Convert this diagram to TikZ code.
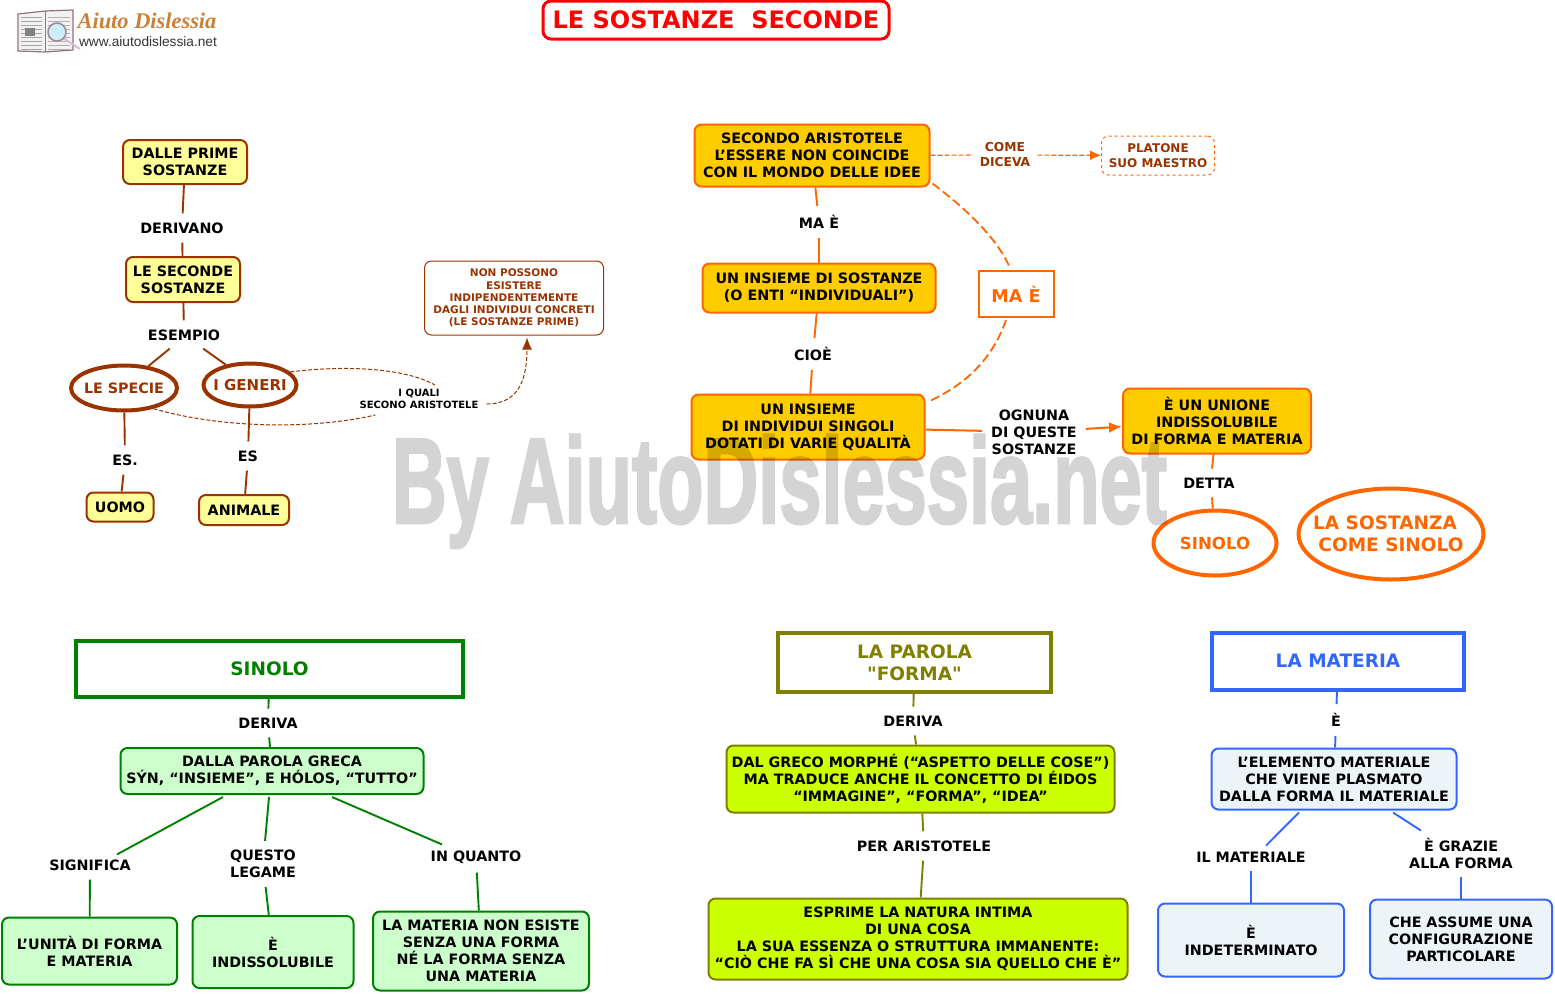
\documentclass[tikz,border=0pt]{standalone}
\usepackage{fontspec}
\usepackage{graphicx}
\setmainfont{DejaVu Sans}
\newfontfamily\logofont{Liberation Serif}
\newfontfamily\webfont{Liberation Sans}
\newfontfamily\markfont[FakeBold=2.5]{Liberation Sans}
\usetikzlibrary{arrows.meta,positioning,calc,shapes.geometric}
\newcommand{\straightq}{\XeTeXglyph\XeTeXcharglyph"0022\relax}
\definecolor{brownc}{HTML}{993300}
\definecolor{orangec}{HTML}{FF6600}
\definecolor{goldc}{HTML}{FFCC00}
\definecolor{paleyel}{HTML}{FFFF99}
\definecolor{greenc}{HTML}{008000}
\definecolor{palegrn}{HTML}{CCFFCC}
\definecolor{olivec}{HTML}{808000}
\definecolor{limec}{HTML}{CCFF00}
\definecolor{bluec}{HTML}{3366FF}
\definecolor{paleblu}{HTML}{EDF4F7}
\tikzstyle{basebox}=[draw,rounded corners=7pt,align=center,inner sep=0pt,line width=2pt,font=\fontsize{14.3}{17}\selectfont\bfseries]
\tikzstyle{yelbox}=[basebox,draw=brownc,fill=paleyel]
\tikzstyle{goldbox}=[basebox,draw=orangec,fill=goldc]
\tikzstyle{grnbox}=[basebox,draw=greenc,fill=palegrn]
\tikzstyle{limebox}=[basebox,draw=olivec,fill=limec]
\tikzstyle{blubox}=[basebox,draw=bluec,fill=paleblu]
\tikzstyle{headbox}=[draw,align=center,inner sep=0pt,line width=4pt,fill=white,font=\fontsize{18.5}{22}\selectfont\bfseries]
\tikzstyle{oval}=[draw,ellipse,align=center,inner xsep=-16pt,inner ysep=0pt,line width=4pt,fill=white]
\tikzstyle{lab}=[align=center,inner sep=9pt,font=\fontsize{14.3}{17}\selectfont\bfseries]
\tikzstyle{smalllab}=[align=center,inner sep=0pt,font=\fontsize{12.3}{15}\selectfont\bfseries]
\tikzstyle{brownln}=[draw=brownc,line width=1.9pt]
\tikzstyle{orangeln}=[draw=orangec,line width=1.9pt]
\tikzstyle{greenln}=[draw=greenc,line width=1.9pt]
\tikzstyle{oliveln}=[draw=olivec,line width=1.9pt]
\tikzstyle{blueln}=[draw=bluec,line width=1.9pt]
\begin{document}
\begin{tikzpicture}[x=1pt,y=-1pt]
  \useasboundingbox (0,0) rectangle (1555,993);
  % logo
  \draw[draw=black!45!magenta!45!gray,line width=1.2pt,fill=black!5] (18,14) -- (45,11) -- (73,10) -- (73,50) -- (45,52) -- (18,51) -- cycle;
  \draw[draw=black!45!magenta!45!gray,line width=1pt] (45,11) -- (45,52);
  \foreach \ly in {17,21,...,49} {
    \draw[draw=black!35,line width=.8pt] (21,\ly) -- (42,\ly);
    \draw[draw=black!30,line width=.8pt] (48,\ly) -- (70,\ly);
  }
  \fill[black!50] (25,28) rectangle (35,36);
  \draw[draw=black!55!magenta!30,line width=2pt] (63,38) -- (80,49);
  \draw[draw=gray!80!magenta,line width=1.5pt,fill=cyan!20] (57,32) circle (9);
  \node (logoname) at (147,21) {\logofont\fontsize{22.4}{22}\selectfont\bfseries\itshape\color{brown!80!orange}Aiuto Dislessia};
  \node (logoweb) at (148,42) {\webfont\fontsize{13.7}{14}\selectfont\color{black!80}www.aiutodislessia.net};
  % title
  \node [draw=red,line width=3pt,rounded corners=8pt,text=red,minimum width=346pt,minimum height=38pt,inner sep=0pt,font=\fontsize{24}{30}\selectfont\bfseries] (title) at (716,20) {LE SOSTANZE\ \ SECONDE};
  % left map
  \node [yelbox,minimum width=124pt,minimum height=44pt] (prime) at (185,162) {DALLE PRIME\\SOSTANZE};
  \node [lab] (derivano) at (182,228) {DERIVANO};
  \node [yelbox,minimum width=114pt,minimum height=45pt] (seconde) at (183,279.5) {LE SECONDE\\SOSTANZE};
  \node [lab] (esempio) at (184,335) {ESEMPIO};
  \node [oval,draw=brownc,text=brownc,minimum width=106pt,minimum height=45pt,font=\fontsize{14.3}{17}\selectfont\bfseries] (specie) at (124,388) {LE SPECIE};
  \node [oval,draw=brownc,text=brownc,minimum width=93pt,minimum height=43pt,font=\fontsize{15}{17}\selectfont\bfseries] (generi) at (250,385) {I GENERI};
  \node [lab] (esa) at (125,460) {ES.};
  \node [lab] (esb) at (248,456) {ES};
  \node [yelbox,minimum width=67pt,minimum height=29pt] (uomo) at (120,507) {UOMO};
  \node [yelbox,minimum width=90pt,minimum height=30pt] (animale) at (244,510) {ANIMALE};
  \node [draw=brownc,line width=1pt,rounded corners=7pt,align=center,inner sep=0pt,text=brownc,minimum width=179pt,minimum height=74pt,font=\fontsize{10.5}{12.2}\selectfont\bfseries] (nonposs) at (514,298) {NON POSSONO\\ESISTERE\\INDIPENDENTEMENTE\\DAGLI INDIVIDUI CONCRETI\\(LE SOSTANZE PRIME)};
  \node [align=center,inner sep=0pt,font=\fontsize{10}{12}\selectfont\bfseries] (iquali) at (419,399) {I QUALI\\SECONO ARISTOTELE};
  \draw[brownln] (prime) -- (derivano);
  \draw[brownln] (derivano) -- (seconde);
  \draw[brownln] (seconde) -- (esempio);
  \draw[brownln] (esempio.south west) ++(31,-1) -- (specie.42);
  \draw[brownln] (esempio.south east) ++(-26,-1) -- (generi.140);
  \draw[brownln] (specie) -- (esa);
  \draw[brownln] (esa) -- (uomo);
  \draw[brownln] (generi) -- (esb);
  \draw[brownln] (esb) -- (animale);
  \draw[draw=brownc,line width=1pt,dash pattern=on 4pt off 2pt] (generi.18) .. controls (345,365) and (405,368) .. ([xshift=16pt,yshift=4pt]iquali.north);
  \draw[draw=brownc,line width=1pt,dash pattern=on 4pt off 2pt] (specie.-35) .. controls (220,428) and (310,430) .. ([xshift=16pt,yshift=-6pt]iquali.south west);
  \draw[draw=brownc,line width=1pt,dash pattern=on 4pt off 2pt,-{Latex[length=12pt,width=10pt]}] ([xshift=8pt,yshift=-5pt]iquali.east) .. controls (515,404) and (527,385) .. ([xshift=13pt,yshift=-2pt]nonposs.south);
  % right map
  \node [goldbox,minimum width=235pt,minimum height=62pt] (aristotele) at (812,155.5) {SECONDO ARISTOTELE\\L’ESSERE NON COINCIDE\\CON IL MONDO DELLE IDEE};
  \node [smalllab,text=brownc,inner sep=7pt] (come) at (1005,155) {COME\\DICEVA};
  \node [draw=orangec,line width=1pt,dashed,rounded corners=7pt,align=center,inner sep=0pt,text=brownc,minimum width=113pt,minimum height=39pt,font=\fontsize{12}{15}\selectfont\bfseries] (platone) at (1158,155.5) {PLATONE\\SUO MAESTRO};
  \node [lab] (mae) at (819,222) {MA È};
  \node [goldbox,minimum width=233pt,minimum height=49pt] (enti) at (819,288) {UN INSIEME DI SOSTANZE\\(O ENTI “INDIVIDUALI”)};
  \node [lab] (cioe) at (813,354) {CIOÈ};
  \node [goldbox,minimum width=233pt,minimum height=65pt] (singoli) at (808,427) {UN INSIEME\\DI INDIVIDUI SINGOLI\\DOTATI DI VARIE QUALITÀ};
  \node [draw=orangec,line width=2pt,text=orangec,minimum width=75pt,minimum height=46pt,inner sep=0pt,font=\fontsize{17.6}{22}\selectfont\bfseries] (maebox) at (1016,294) {MA È};
  \node [lab] (ognuna) at (1034,432) {OGNUNA\\DI QUESTE\\SOSTANZE};
  \node [goldbox,minimum width=188pt,minimum height=65pt] (unione) at (1217,421) {È UN UNIONE\\INDISSOLUBILE\\DI FORMA E MATERIA};
  \node [lab] (detta) at (1209,483) {DETTA};
  \node [oval,draw=orangec,text=orangec,minimum width=123pt,minimum height=65pt,font=\fontsize{16.6}{19}\selectfont\bfseries] (sinolob) at (1215,543) {SINOLO};
  \node [oval,draw=orangec,text=orangec,minimum width=185pt,minimum height=91pt,font=\fontsize{18.5}{22}\selectfont\bfseries] (sostsin) at (1391,534) {LA SOSTANZA\hspace*{12pt}\\COME SINOLO};
  \draw[orangeln,line width=1.2pt,dash pattern=on 5pt off 2pt] (aristotele) -- (come);
  \draw[orangeln,line width=1.2pt,dash pattern=on 5pt off 2pt,-{Latex[length=11pt,width=10pt]}] (come) -- (platone);
  \draw[orangeln] (aristotele) -- (mae);
  \draw[orangeln] (mae) -- (enti);
  \draw[orangeln] (enti) -- (cioe);
  \draw[orangeln] (cioe) -- (singoli);
  \draw[orangeln,line width=1.8pt,dash pattern=on 9pt off 4pt] ([xshift=2pt,yshift=4pt]aristotele.south east) .. controls (970,212) and (998,240) .. ([xshift=-6pt,yshift=2pt]maebox.north);
  \draw[orangeln,line width=1.8pt,dash pattern=on 9pt off 4pt] ([xshift=-10pt,yshift=-2pt]maebox.south) .. controls (992,360) and (965,385) .. ([xshift=2pt,yshift=25pt]singoli.east);
  \draw[orangeln,line width=2pt] (singoli) -- (ognuna);
  \draw[orangeln,line width=2pt,-{Latex[length=13pt,width=11pt]}] (ognuna) -- (unione);
  \draw[orangeln] (unione) -- ([xshift=3pt]detta.north);
  \draw[orangeln] ([xshift=3pt]detta.south) -- (sinolob);
  % bottom left
  \node [headbox,draw=greenc,text=greenc,minimum width=387pt,minimum height=56pt] (sinolo) at (269.5,669) {SINOLO};
  \node [lab] (derivag) at (268,723) {DERIVA};
  \node [grnbox,minimum width=303pt,minimum height=46pt] (greca) at (272,771) {DALLA PAROLA GRECA\\SÝN, “INSIEME”, E HÓLOS, “TUTTO”};
  \node [lab] (significa) at (90,865) {SIGNIFICA};
  \node [lab] (legame) at (263,864) {QUESTO\\LEGAME};
  \node [lab] (inquanto) at (476,857) {IN QUANTO};
  \node [grnbox,minimum width=175pt,minimum height=67pt] (unita) at (89.5,951) {L’UNITÀ DI FORMA\\E MATERIA};
  \node [grnbox,minimum width=161pt,minimum height=72pt] (indiss) at (273,952) {È\\INDISSOLUBILE};
  \node [grnbox,minimum width=216pt,minimum height=79pt] (materia) at (481,951) {LA MATERIA NON ESISTE\\SENZA UNA FORMA\\NÉ LA FORMA SENZA\\UNA MATERIA};
  \draw[greenln] (sinolo) -- (derivag);
  \draw[greenln] (derivag) -- (greca);
  \draw[greenln] ([xshift=-49pt,yshift=-2pt]greca.south) -- ([xshift=27pt,yshift=-4pt]significa.north);
  \draw[greenln] ([xshift=-3pt,yshift=-2pt]greca.south) -- (legame);
  \draw[greenln] ([xshift=60pt,yshift=-2pt]greca.south) -- ([xshift=-34pt,yshift=-3pt]inquanto.north);
  \draw[greenln] (significa) -- (unita);
  \draw[greenln] (legame) -- (indiss);
  \draw[greenln] (inquanto) -- (materia);
  % bottom middle
  \node [headbox,draw=olivec,text=olivec,minimum width=273pt,minimum height=59pt] (forma) at (914.5,662.5) {LA PAROLA\\\straightq FORMA\straightq};
  \node [lab] (derivao) at (913,721) {DERIVA};
  \node [limebox,minimum width=388pt,minimum height=67pt] (morphe) at (920.5,779) {DAL GRECO MORPHÉ (“ASPETTO DELLE COSE”)\\MA TRADUCE ANCHE IL CONCETTO DI ÉIDOS\\“IMMAGINE”, “FORMA”, “IDEA”};
  \node [lab] (peraris) at (924,846) {PER ARISTOTELE};
  \node [limebox,minimum width=419pt,minimum height=81pt] (esprime) at (918,939) {ESPRIME LA NATURA INTIMA\\DI UNA COSA\\LA SUA ESSENZA O STRUTTURA IMMANENTE:\\“CIÒ CHE FA SÌ CHE UNA COSA SIA QUELLO CHE È”};
  \draw[oliveln] (forma) -- (derivao);
  \draw[oliveln] (derivao) -- (morphe);
  \draw[oliveln] (morphe) -- (peraris);
  \draw[oliveln] (peraris) -- (esprime);
  % bottom right
  \node [headbox,draw=bluec,text=bluec,minimum width=252pt,minimum height=57pt] (lamateria) at (1338,661) {LA MATERIA};
  \node [lab] (ebl) at (1336,720) {È};
  \node [blubox,minimum width=245pt,minimum height=61pt] (elemento) at (1334,779) {L’ELEMENTO MATERIALE\\CHE VIENE PLASMATO\\DALLA FORMA IL MATERIALE};
  \node [lab] (ilmat) at (1251,857) {IL MATERIALE};
  \node [lab] (grazie) at (1461,853) {È GRAZIE\\ALLA FORMA};
  \node [blubox,minimum width=186pt,minimum height=73pt] (indet) at (1251,940) {È\\INDETERMINATO};
  \node [blubox,minimum width=182pt,minimum height=79pt] (assume) at (1461,939) {CHE ASSUME UNA\\CONFIGURAZIONE\\PARTICOLARE};
  \draw[blueln] (lamateria) -- (ebl);
  \draw[blueln] (ebl) -- (elemento);
  \draw[blueln] ([xshift=-35pt,yshift=-2pt]elemento.south) -- ([xshift=15pt,yshift=-3pt]ilmat.north);
  \draw[blueln] ([xshift=59pt,yshift=-2pt]elemento.south) -- ([xshift=-40pt,yshift=-2pt]grazie.north);
  \draw[blueln] (ilmat) -- (indet);
  \draw[blueln] (grazie) -- (assume);
  % watermark
  \begin{scope}[transparency group,opacity=.17]
    \node [inner sep=0pt,text=black] (wmark) at (779.5,491.5) {\resizebox*{775pt}{113pt}{\markfont\bfseries By AiutoDislessia.net}};
  \end{scope}
\end{tikzpicture}
\end{document}
